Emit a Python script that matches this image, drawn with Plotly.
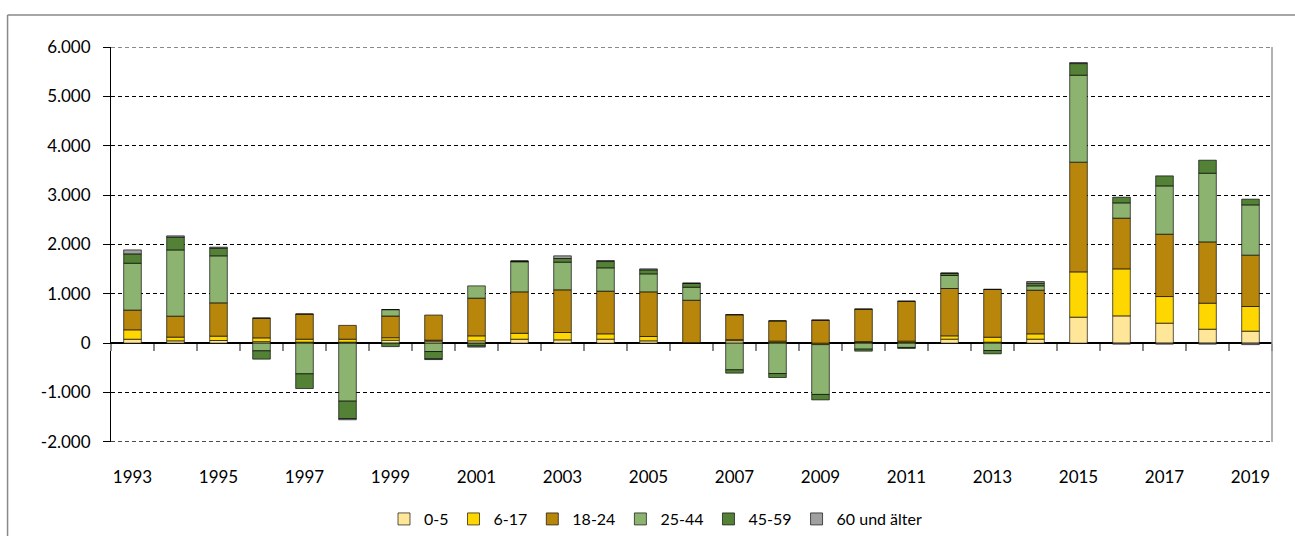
import plotly.graph_objects as go

years = [str(y) for y in range(1993, 2020)]
age_groups = ["0-5", "6-17", "18-24", "25-44", "45-59", "60 und älter"]

v_0_5 = [80, 47, 54, 30, 20, 20, 60, 40, 47, 80, 67, 81, 47, 5, 50, 10, 0, 10, 10, 81, 20, 81, 527, 553, 405, 283, 243]
v_6_17 = [190, 75, 88, 77, 60, 60, 50, 20, 101, 120, 149, 108, 88, 5, 20, 30, -30, 20, 30, 67, 100, 108, 918, 953, 540, 527, 500]
v_18_24 = [400, 425, 675, 400, 510, 280, 440, 510, 764, 840, 865, 865, 905, 860, 506, 412, 466, 660, 810, 960, 970, 885, 2224, 1028, 1264, 1243, 1041]
v_25_44 = [950, 1343, 953, -156, -622, -1176, 130, -170, 249, 610, 561, 473, 365, 264, -541, -616, -1010, -122, -87, 264, -149, 88, 1763, 310, 979, 1392, 1019]
v_45_59 = [190, 258, 155, -168, -298, -352, -70, -148, -60, 15, 74, 128, 81, 81, -67, -81, -110, -40, -20, 47, -67, 54, 236, 115, 203, 264, 116]
v_60 = [80, 27, 21, 0, 0, -25, 0, -15, -20, 0, 54, 20, 20, 0, 0, 0, 0, 0, 0, 0, 0, 33, 20, -20, -20, -20, -30]

series = [v_0_5, v_6_17, v_18_24, v_25_44, v_45_59, v_60]
colors = ["#FFE699", "#FFD700", "#B8860B", "#8DB371", "#538135", "#A0A0A0"]

y_ticks = [-2000, -1000, 0, 1000, 2000, 3000, 4000, 5000, 6000]
y_tick_text = ["-2.000", "-1.000", "0", "1.000", "2.000", "3.000", "4.000", "5.000", "6.000"]
y_min, y_max = y_ticks[0], y_ticks[-1]
x_label_years = years[::2]

FONT = "Lato"

fig = go.Figure()
for name, vals, col in zip(age_groups, series, colors):
    fig.add_trace(go.Bar(
        x=years, y=vals, name=name,
        marker=dict(color=col, line=dict(color="rgba(0,0,0,0.65)", width=1)),
    ))

# helper trace for the tick marks on the zero line
fig.add_trace(go.Scatter(
    x=years, y=[0] * len(years), xaxis="x2", mode="lines",
    line=dict(width=0, color="rgba(0,0,0,0)"), showlegend=False, hoverinfo="skip",
))

fig.update_layout(
    width=1295, height=536,
    barmode="relative", bargap=0.59,
    plot_bgcolor="white", paper_bgcolor="white",
    margin=dict(l=111, r=23, t=47, b=94, autoexpand=False),
    font=dict(family=FONT, size=16, color="#000"),
    xaxis=dict(
        type="category", categoryorder="array", categoryarray=years,
        range=[-0.5, len(years) - 0.5],
        tickvals=x_label_years, ticktext=x_label_years,
        ticks="outside", ticklen=20, tickcolor="rgba(0,0,0,0)",
        showline=False, showgrid=False, zeroline=False,
        tickfont=dict(family=FONT, size=17, color="#000"),
    ),
    xaxis2=dict(
        type="category", categoryorder="array", categoryarray=years,
        range=[-0.5, len(years) - 0.5],
        overlaying="x", anchor="free", position=0.25, side="bottom",
        ticks="outside", tickson="boundaries", ticklen=7, tickcolor="#888", tickwidth=1.5,
        showticklabels=False, showline=False, showgrid=False, zeroline=False,
    ),
    yaxis=dict(
        range=[y_min - 4, y_max + 4],
        tickvals=y_ticks, ticktext=y_tick_text,
        ticks="outside", ticklen=7, tickcolor="#000",
        showline=True, linecolor="#000", linewidth=1,
        showgrid=True, gridcolor="#000", gridwidth=1, griddash="4px,3px",
        zeroline=True, zerolinecolor="#000", zerolinewidth=1.5,
        tickfont=dict(family=FONT, size=17, color="#000"),
        ticklabelstandoff=9,
    ),
    legend=dict(
        orientation="h", x=0.469, xanchor="center", y=-0.195, yanchor="middle",
        font=dict(family=FONT, size=16, color="#000"),
        traceorder="normal", itemwidth=30,
    ),
    shapes=[
        # dashed boundary gridlines at the axis range ends
        dict(type="line", xref="paper", yref="y", x0=0, x1=1, y0=y_max, y1=y_max,
             line=dict(color="#555", width=1, dash="4px,3px"), layer="below"),
        dict(type="line", xref="paper", yref="y", x0=0, x1=1, y0=y_min, y1=y_min,
             line=dict(color="#000", width=1, dash="4px,3px"), layer="below"),
        # plot area right border
        dict(type="line", xref="paper", yref="paper", x0=1, x1=1, y0=0, y1=1,
             line=dict(color="#999", width=1.5)),
        # outer chart border (top and left)
        dict(type="line", xref="paper", yref="paper", x0=-0.0891, x1=1.05, y0=1.081, y1=1.081,
             line=dict(color="#888", width=1.5)),
        dict(type="line", xref="paper", yref="paper", x0=-0.0891, x1=-0.0891, y0=1.081, y1=-0.3,
             line=dict(color="#888", width=1.5)),
    ],
    showlegend=True,
)

fig.write_html("out.html", config={"displayModeBar": False},
               post_script="document.body.style.margin='0';")
